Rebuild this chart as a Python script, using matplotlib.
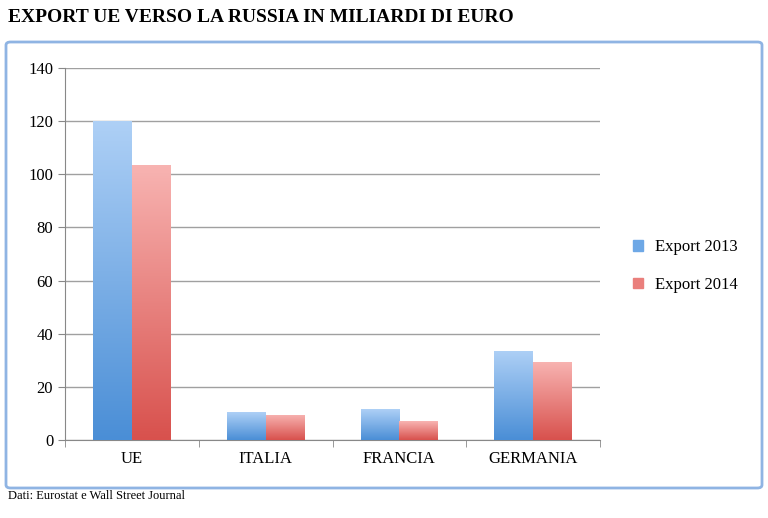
import numpy as np
import matplotlib.pyplot as plt
from matplotlib.colors import LinearSegmentedColormap
from matplotlib.patches import Rectangle, FancyBboxPatch

categories = ["UE", "ITALIA", "FRANCIA", "GERMANIA"]
export_2013 = [120, 10.5, 11.5, 33.5]
export_2014 = [103.5, 9.5, 7, 29.5]
yticks = [0, 20, 40, 60, 80, 100, 120, 140]

fig = plt.figure(figsize=(7.68, 5.18), dpi=100)
fig.patch.set_facecolor("white")

# outer frame of the chart
frame = FancyBboxPatch((6 / 768, 1 - 488 / 518), 756 / 768, 446 / 518,
                       boxstyle="round,pad=0,rounding_size=0.006",
                       transform=fig.transFigure, fill=False,
                       edgecolor="#8fb4e3", linewidth=2)
fig.patches.append(frame)

fig.text(8 / 768, 1 - 18 / 518, "EXPORT UE VERSO LA RUSSIA IN MILIARDI DI EURO",
         fontsize=14, fontweight="bold", family="Liberation Serif", va="center")
fig.text(8 / 768, 1 - 496 / 518, "Dati: Eurostat e Wall Street Journal",
         fontsize=9, family="Liberation Serif", va="center")

ax = fig.add_axes([65 / 768, 1 - 440 / 518, 535 / 768, 372 / 518])
x = np.arange(len(categories))
w = 0.29

blue = LinearSegmentedColormap.from_list("b", ["#4a8ed6", "#aed0f6"])
red = LinearSegmentedColormap.from_list("r", ["#d8514d", "#f8b4b2"])
grad = np.linspace(0, 1, 256).reshape(-1, 1)

def gradient_bars(xs, vals, cmap):
    bars = ax.bar(xs, vals, w, color="none", zorder=3)
    for b in bars:
        x0, y0 = b.get_x(), b.get_y()
        im = ax.imshow(grad, cmap=cmap, origin="lower", aspect="auto",
                       extent=(x0, x0 + b.get_width(), y0, y0 + b.get_height()),
                       zorder=3)
        im.set_clip_path(b)
    return bars

b1 = gradient_bars(x - w / 2, export_2013, blue)
b2 = gradient_bars(x + w / 2, export_2014, red)

ax.set_xlim(-0.5, len(categories) - 0.5)
ax.set_ylim(0, 140)
ax.set_yticks(yticks)
ax.set_xticks(x)
ax.set_xticklabels(categories)
ax.yaxis.grid(True, color="#a0a0a0", linewidth=1, zorder=0)
ax.set_axisbelow(True)
for s in ["top", "right"]:
    ax.spines[s].set_visible(False)
ax.spines["left"].set_color("#888888")
ax.spines["bottom"].set_color("#888888")
ax.tick_params(axis="y", length=5, color="#888888", labelsize=12)
ax.tick_params(axis="x", length=5, color="#888888", labelsize=12, pad=8)
ax.set_xticks(np.arange(-0.5, len(categories), 1), minor=True)
ax.tick_params(axis="x", which="minor", length=5, color="#888888")
ax.tick_params(axis="x", which="major", length=0)
for lab in ax.get_xticklabels() + ax.get_yticklabels():
    lab.set_family("Liberation Serif")

handles = [Rectangle((0, 0), 1, 1, color="#6ea8e6"),
           Rectangle((0, 0), 1, 1, color="#ea7f7c")]
leg = fig.legend(handles, ["Export 2013", "Export 2014"], loc="center left",
                 bbox_to_anchor=(618 / 768, 1 - 266 / 518), frameon=False,
                 prop={"family": "Liberation Serif", "size": 12},
                 handlelength=0.6, handleheight=0.6, handletextpad=0.7,
                 labelspacing=1.3)

fig.savefig("out.png", dpi=100)
